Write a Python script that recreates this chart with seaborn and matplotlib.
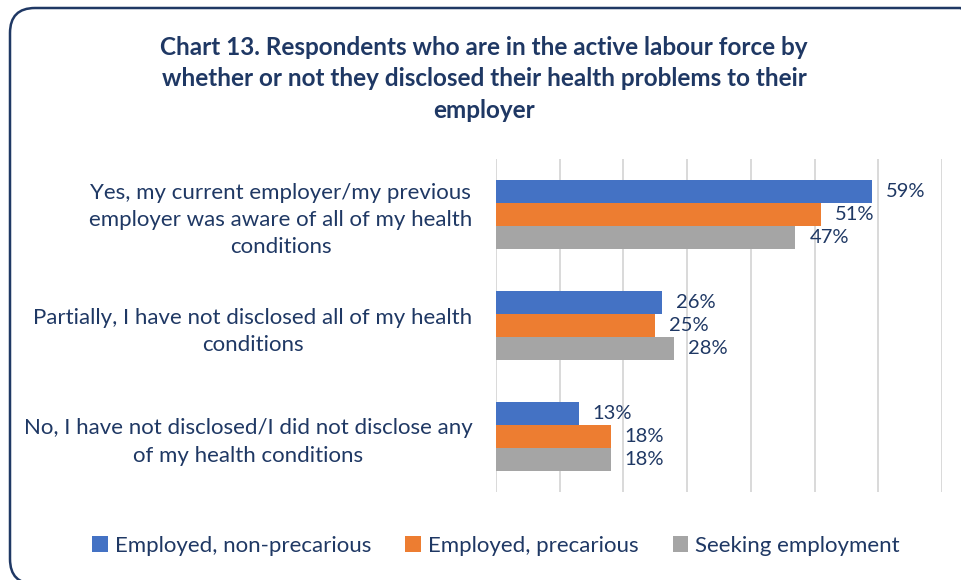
import matplotlib
matplotlib.use("Agg")
import matplotlib.pyplot as plt
from matplotlib.patches import FancyBboxPatch
import seaborn as sns
import pandas as pd

# Survey answers (y categories) and the three respondent groups
categories = [
    "Yes, my current employer/my previous\nemployer was aware of all of my health\nconditions",
    "Partially, I have not disclosed all of my health\nconditions",
    "No, I have not disclosed/I did not disclose any\nof my health conditions",
]
series = ["Employed, non-precarious", "Employed, precarious", "Seeking employment"]
non_precarious = [59, 26, 13]
precarious = [51, 25, 18]
seeking = [47, 28, 18]
colors = ["#4472C4", "#ED7D31", "#A5A5A5"]
title = ("Chart 13. Respondents who are in the active labour force by\n"
         "whether or not they disclosed their health problems to their\n"
         "employer")

NAVY = "#1F3864"

sns.set_theme(style="white")
plt.rcParams["font.family"] = ["Lato", "DejaVu Sans"]

df = pd.DataFrame({
    "category": categories * 3,
    "series": [s for s in series for _ in categories],
    "value": non_precarious + precarious + seeking,
})

W, H = 961, 580
fig = plt.figure(figsize=(W / 100, H / 100), dpi=100)
fig.patch.set_facecolor("white")

ax = fig.add_axes([496 / W, 1 - 492 / H, (942 - 496) / W, (492 - 159) / H])
sns.barplot(data=df, y="category", x="value", hue="series",
            order=categories, hue_order=series, palette=colors,
            orient="h", width=0.62, gap=0, saturation=1,
            edgecolor="none", ax=ax)

ax.set_xlim(0, 70)
ax.set_xticks(range(0, 71, 10))
ax.set_xticklabels([])
ax.grid(axis="x", color="#D9D9D9", linewidth=1.4)
ax.grid(axis="y", visible=False)
ax.set_axisbelow(True)
for sp in ax.spines.values():
    sp.set_visible(False)
ax.set_xlabel("")
ax.set_ylabel("")
ax.tick_params(axis="x", length=0)
ax.tick_params(axis="y", length=0, pad=17, labelsize=16, labelcolor=NAVY)
for lbl in ax.get_yticklabels():
    lbl.set_multialignment("center")
    lbl.set_linespacing(1.45)

for cont in ax.containers:
    ax.bar_label(cont, fmt="%d%%", padding=10, color=NAVY, fontsize=14.5)

# Legend along the bottom
handles, labels = ax.get_legend_handles_labels()
ax.legend_.remove()
fig.legend(handles, labels, loc="center", bbox_to_anchor=(496 / W, 1 - 546 / H),
           ncol=3, frameon=False, fontsize=16, labelcolor=NAVY,
           handlelength=0.7, handleheight=0.7, handletextpad=0.3,
           columnspacing=1.55)

fig.text(484 / W, 1 - 79 / H, title, ha="center", va="center",
         fontsize=17.5, fontweight="bold", color=NAVY, linespacing=1.46)

# Rounded frame around the chart (inch units); right and bottom sides run off the page
frame = FancyBboxPatch((0.10, -0.04), 9.75, 5.76,
                       boxstyle="round,pad=0,rounding_size=0.25",
                       transform=fig.dpi_scale_trans, facecolor="none",
                       edgecolor=NAVY, linewidth=1.8)
fig.add_artist(frame)

fig.savefig("out.png", dpi=100)
